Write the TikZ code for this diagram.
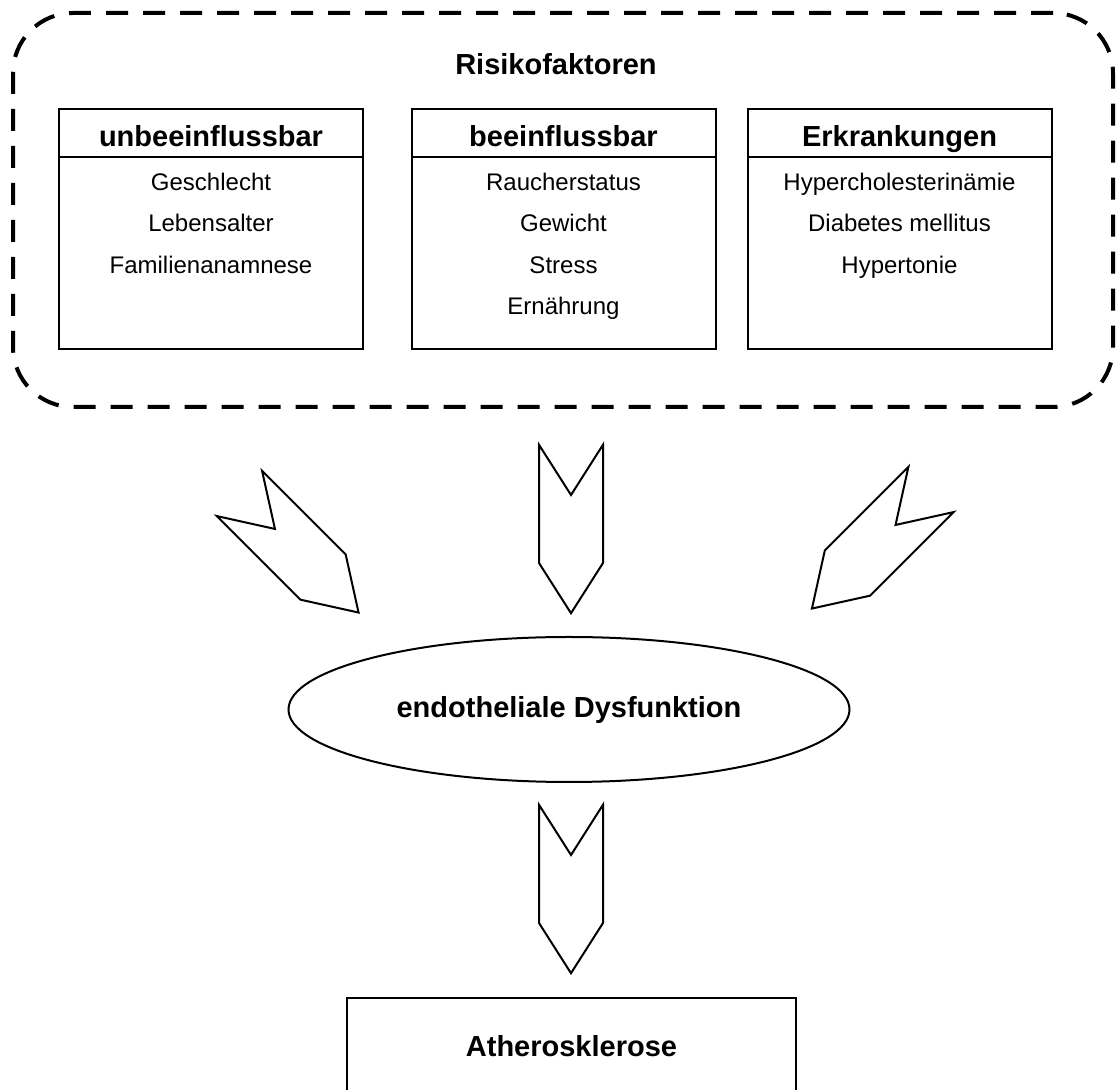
\documentclass[tikz,border=0pt]{standalone}
\usepackage{fontspec}
\setmainfont{Liberation Sans}
\usetikzlibrary{positioning,shapes.geometric,shapes.symbols}

\tikzset{
  riskgroup/.style={draw, line width=2pt, dash pattern=on 11pt off 7.5pt,
    rounded corners=30pt, inner sep=0pt, outer sep=0pt,
    minimum width=550pt, minimum height=197pt},
  bigtext/.style={font=\fontsize{14.5}{17}\selectfont\bfseries},
  headbox/.style={draw, line width=1pt, inner sep=0pt, outer sep=0pt,
    minimum width=152pt, minimum height=24pt, text height=14pt, text depth=0pt, bigtext},
  bodybox/.style={draw, line width=1pt, inner sep=0pt, outer sep=0pt,
    minimum width=152pt, minimum height=96pt},
  itemlist/.style={align=center, inner sep=0pt, anchor=north, font=\fontsize{12}{20.75}\selectfont},
  endobox/.style={ellipse, draw, line width=1pt, inner sep=0pt,
    minimum width=280.5pt, minimum height=72.5pt, text height=10.5pt, text depth=2pt, bigtext},
  resultbox/.style={draw, line width=1pt, inner sep=0pt,
    minimum width=224.5pt, minimum height=49pt, text height=10pt, text depth=0pt, bigtext},
  blockarrow/.style={signal, draw, line width=1pt, signal from=north, signal to=south,
    signal pointer angle=65, inner sep=0pt, minimum width=32pt, minimum height=34pt}
}

\begin{document}
\begin{tikzpicture}[x=0.5pt,y=-0.5pt]
    \useasboundingbox (0,0) rectangle (1116,1090);
    %risk factors
    \node[riskgroup] (risk) at (563,210) {};
    \node[bigtext, anchor=base] (risktitle) at (556,75) {Risikofaktoren};
    %(1)
    \node[headbox] (unb) at (211,133) {unbeeinflussbar};
    \node[bodybox, below=0pt of unb] (unbbody) {};
    \node[itemlist] (unbitems) at ([yshift=-7.8pt]unb.south)
      {Geschlecht\\Lebensalter\\Familienanamnese};
    %(2)
    \node[headbox] (bee) at (563.5,133) {beeinflussbar};
    \node[bodybox, below=0pt of bee] (beebody) {};
    \node[itemlist] (beeitems) at ([yshift=-7.8pt]bee.south)
      {Raucherstatus\\Gewicht\\Stress\\Ernährung};
    %(3)
    \node[headbox] (erk) at (899.5,133) {Erkrankungen};
    \node[bodybox, below=0pt of erk] (erkbody) {};
    \node[itemlist] (erkitems) at ([yshift=-7.8pt]erk.south)
      {Hypercholesterinämie\\Diabetes mellitus\\Hypertonie};
    %arrows
    \node[blockarrow, rotate=45] (arrleft) at (299,553) {};
    \node[blockarrow] (arrmid) at (571,529) {};
    \node[blockarrow, rotate=-45] (arrright) at (871.5,549) {};
    %endothel
    \node[endobox] (endo) at (569,709.5) {endotheliale Dysfunktion};
    \node[blockarrow] (arrdown) at (571,889) {};
    \node[resultbox] (athero) at (571.5,1047) {Atherosklerose};
\end{tikzpicture}
\end{document}
